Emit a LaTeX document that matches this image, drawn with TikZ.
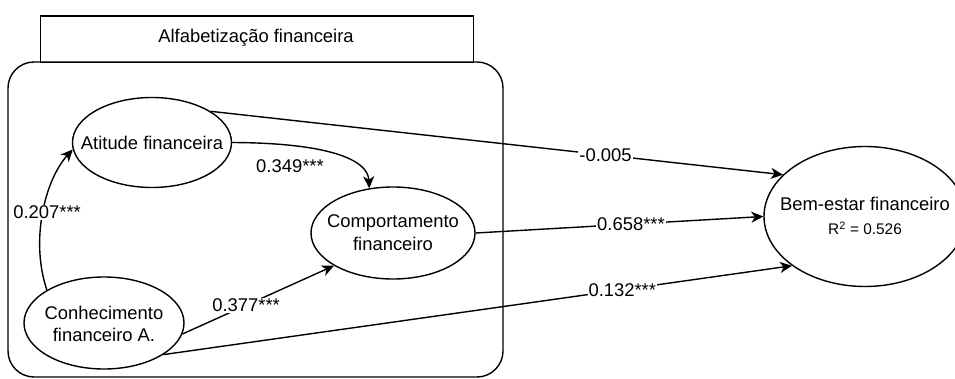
\documentclass[tikz,border=0pt]{standalone}
\usepackage{fontspec}
\setmainfont{Liberation Sans}
\usetikzlibrary{shapes.geometric,arrows.meta}
\begin{document}
\begin{tikzpicture}[x=1pt,y=-1pt,
  every node/.style={font=\fontsize{18.4}{22.7}\selectfont},
  latent/.style={draw, ellipse, inner sep=0pt, line width=1.4pt},
  pathline/.style={draw, line width=1.4pt, -{Stealth[length=12pt,width=11pt,inset=3.5pt]}},
  coef/.style={fill=white, inner sep=1pt},
  small/.style={font=\fontsize{15.4}{18}\selectfont},
]
\useasboundingbox (0,0) rectangle (955,379);

% construct group: header and rounded frame
\draw[line width=1.4pt, rounded corners=26pt] (8,62) rectangle (503,377);
\node[draw, line width=1.4pt, minimum width=432.5pt, minimum height=46.5pt,
      inner sep=0pt, anchor=north west] (title) at (40,15.5) {};
\node at (256,38) (titletext) {Alfabetização financeira};

% latent variables
\node[latent, minimum width=159pt, minimum height=90pt] (att) at (152,142.5) {};
\node at (att) {Atitude financeira};

\node[latent, minimum width=164pt, minimum height=92pt] (comp) at (393,233) {};
\node[align=center] at (comp) {Comportamento\\financeiro};

\node[latent, minimum width=160pt, minimum height=92pt] (con) at (104,323) {};
\node[align=center] at (104,324) {Conhecimento\\financeiro A.};

\node[latent, minimum width=202pt, minimum height=140pt] (bem) at (865,216.5) {};
\node (bemtext) at (865,204) {Bem-estar financeiro};
\node[small] (r2) at (865,228) {R\textsuperscript{2} = 0.526};

% structural paths
\draw[pathline] (att.28) -- node[coef, pos=0.69] {-0.005} (bem.153);
\draw[pathline] (att.east) .. controls (330,143) and (368,160) .. (comp.118);
\node (c349) at (290,166) {0.349***};
\draw[pathline] (comp.east) -- node[coef, pos=0.54] {0.658***} (bem.west);
\draw[pathline] (con.150) .. controls (30,240) and (45,180) .. node[coef, pos=0.5, xshift=4pt] {0.207***} (att.185);
\draw[pathline] (con.-8) -- node[coef, pos=0.42] {0.377***} (comp.209);
\draw[pathline] (con.-28) -- node[coef, pos=0.73] {0.132***} (bem.214);
\end{tikzpicture}
\end{document}
